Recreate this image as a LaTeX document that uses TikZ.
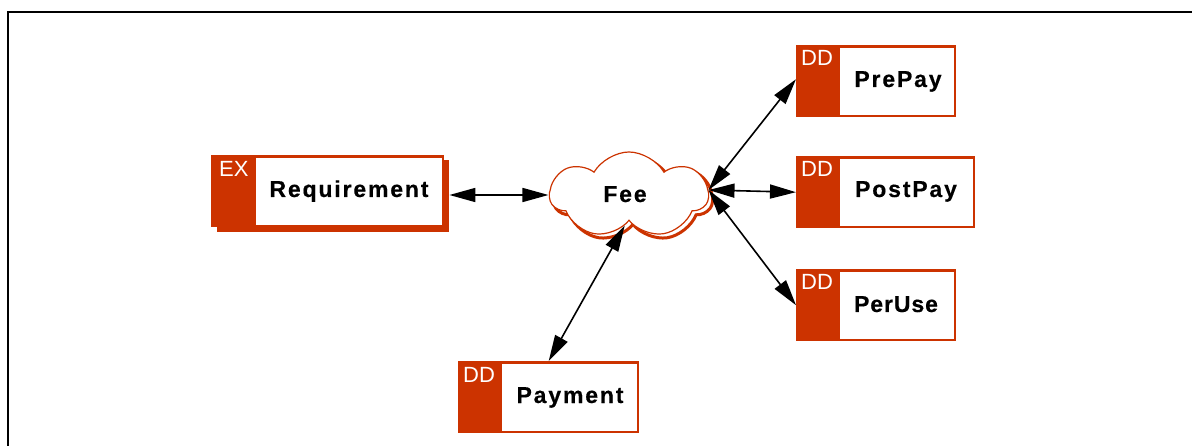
\documentclass[tikz,border=0pt]{standalone}
\usepackage{fontspec}
\setmainfont{Liberation Sans}
\newfontfamily\lblfont[LetterSpace=8,BoldFeatures={FakeBold=0.4}]{Liberation Sans}
\newfontfamily\lblfontb[LetterSpace=4,BoldFeatures={FakeBold=0.4}]{Liberation Sans}
\usetikzlibrary{shapes.symbols,arrows.meta}
\definecolor{rust}{HTML}{CC3300}
\tikzset{
  redbox/.style={fill=rust, inner sep=0pt, anchor=north west},
  whitepart/.style={fill=white, draw=rust, line width=0.6pt, inner sep=0pt, anchor=north west},
  tag/.style={text=white, font=\fontsize{22}{22}\selectfont, anchor=base west, inner sep=0pt},
  lbl/.style={font=\lblfont\bfseries\fontsize{23}{23}\selectfont, anchor=base, inner sep=0pt},
  conn/.style={draw=black, line width=1.6pt, {Triangle[length=26pt,width=14pt]}-{Triangle[length=26pt,width=14pt]}},
  frame/.style={draw=black, line width=2.4pt}
}
\begin{document}
\begin{tikzpicture}[x=1pt,y=-1pt]
\useasboundingbox (0,0) rectangle (1192,446);
\fill[white] (0,0) rectangle (1192,446);
\draw[frame] (8,447) -- (8,12) -- (1193,12);

% Requirement (EX) with shadow
\node[redbox, minimum width=232pt, minimum height=72pt] (reqshadow) at (217,160) {};
\node[redbox, minimum width=233pt, minimum height=72pt] (req) at (211,155) {};
\node[whitepart, minimum width=187pt, minimum height=68pt] (reqw) at (255,157) {};
\node[tag] (reqtag) at (219,177) {EX};
\node[lbl] (reqlbl) at (349,197) {Requirement};

% PrePay
\node[redbox, minimum width=160pt, minimum height=72pt] (prepay) at (796,45) {};
\node[whitepart, minimum width=115pt, minimum height=68pt] (prepayw) at (839,47) {};
\node[tag] (prepaytag) at (801,66) {DD};
\node[lbl] (prepaylbl) at (898,87) {PrePay};

% PostPay
\node[redbox, minimum width=179pt, minimum height=72pt] (postpay) at (796,156) {};
\node[whitepart, minimum width=134pt, minimum height=68pt] (postpayw) at (839,158) {};
\node[tag] (postpaytag) at (801,177) {DD};
\node[lbl] (postpaylbl) at (906,197) {PostPay};

% PerUse
\node[redbox, minimum width=160pt, minimum height=72pt] (peruse) at (796,269) {};
\node[whitepart, minimum width=115pt, minimum height=68pt] (perusew) at (839,271) {};
\node[tag] (perusetag) at (801,290) {DD};
\node[lbl, font=\lblfontb\bfseries\fontsize{23}{23}\selectfont] (peruselbl) at (896,312) {PerUse};

% Payment
\node[redbox, minimum width=181pt, minimum height=72pt] (payment) at (458,361) {};
\node[whitepart, minimum width=136pt, minimum height=68pt] (paymentw) at (501,363) {};
\node[tag] (paymenttag) at (463,382) {DD};
\node[lbl] (paymentlbl) at (570,403) {Payment};

% Fee cloud
\node[cloud, cloud puffs=7, cloud puff arc=120, aspect=1.8, draw=rust, line width=3pt,
      minimum width=158pt, minimum height=86pt, inner sep=0pt] (feeshadow) at (633,199) {};
\node[cloud, cloud puffs=7, cloud puff arc=120, aspect=1.8, draw=rust, fill=white, line width=1.2pt,
      minimum width=158pt, minimum height=86pt, inner sep=0pt] (fee) at (629,195) {};
\node[lbl] (feelbl) at (625,202) {Fee};

\coordinate (hub) at ([xshift=-1pt,yshift=5pt]fee.east);

% connectors
\draw[conn] (fee.west -| reqshadow.east) -- (fee.west);
\draw[conn] (hub) -- ([yshift=2pt]prepay.west);
\draw[conn] (hub) -- (postpay.west);
\draw[conn] (hub) -- (peruse.west);
\draw[conn] (fee.-98) -- (payment.north);
\end{tikzpicture}
\end{document}
